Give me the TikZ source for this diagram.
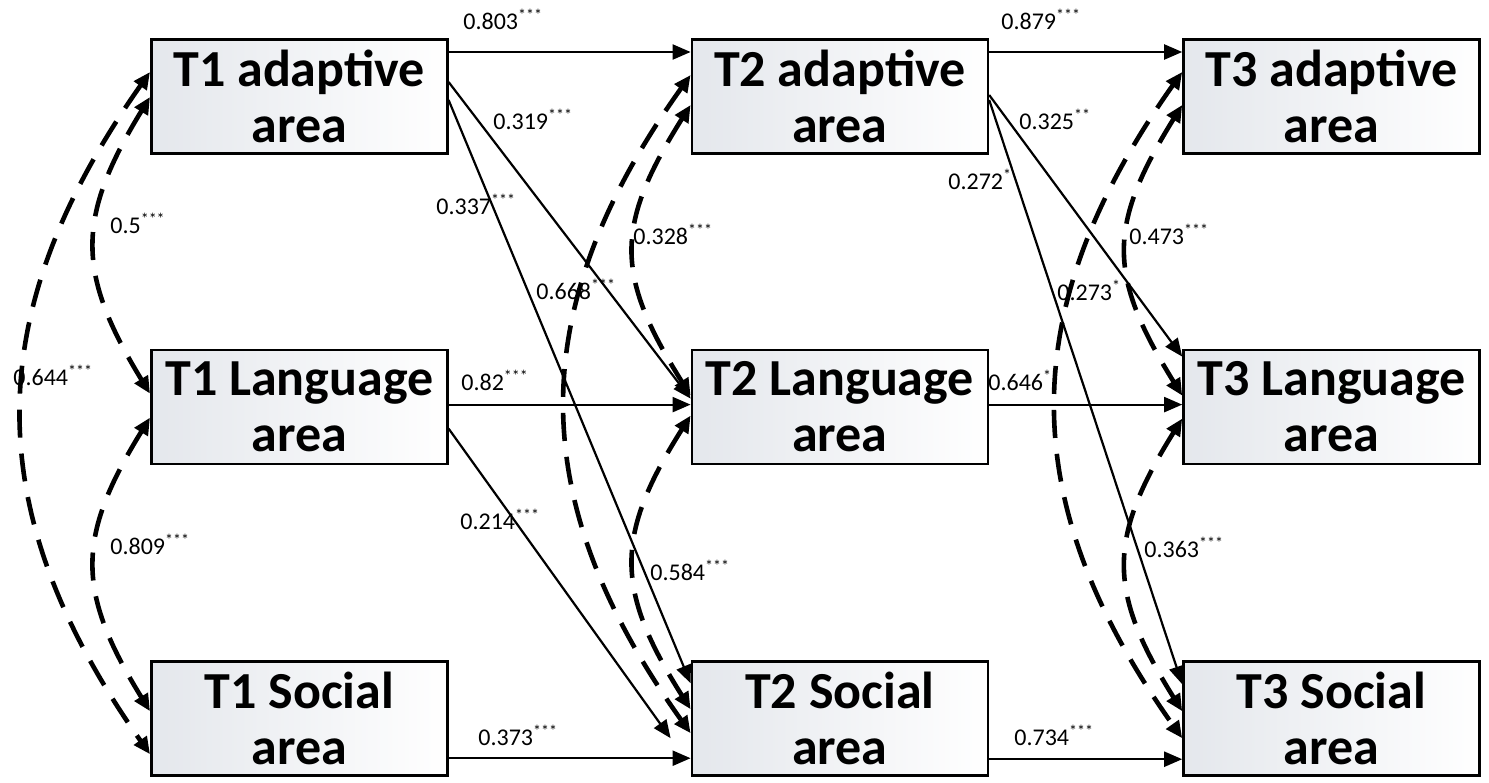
\documentclass[tikz,border=0pt]{standalone}
\usepackage{fontspec}
\setmainfont{Carlito}
\usepackage{tikz}
\usetikzlibrary{positioning, arrows.meta}
\definecolor{boxgray}{RGB}{228,231,236}
\tikzstyle{arrow} = [line width=1.1pt,-{Triangle[length=9pt,width=7.5pt]}]
\tikzstyle{corr} = [line width=2.3pt,dash pattern=on 14pt off 8pt,{Triangle[length=8.5pt,width=7.5pt]}-{Triangle[length=8.5pt,width=7.5pt]}]
\tikzstyle{coef} = [font=\fontsize{12}{14}\selectfont, inner sep=0pt, anchor=base west]

\begin{document}
\begin{tikzpicture}[x=0.5pt,y=-0.5pt,
areanode/.style={rectangle, draw=black, line width=1.3pt, left color=boxgray, middle color=white, right color=white, minimum width=148pt, minimum height=57pt, inner sep=0pt, align=center, font=\bfseries\fontsize{26}{28}\selectfont}
]
\useasboundingbox (0,0) rectangle (1489,782);
\node[areanode, anchor=north west] (A1) at (150,38) {T1 adaptive\\area};
\node[areanode] (L1) [below=97pt of A1] {T1 Language\\area};
\node[areanode] (S1) [below=97.5pt of L1] {T1 Social\\area};
\node[areanode] (A2) [right=121pt of A1] {T2 adaptive\\area};
\node[areanode] (L2) [right=121pt of L1] {T2 Language\\area};
\node[areanode] (S2) [right=121pt of S1] {T2 Social\\area};
\node[areanode] (A3) [right=96.5pt of A2] {T3 adaptive\\area};
\node[areanode] (L3) [right=96.5pt of L2] {T3 Language\\area};
\node[areanode] (S3) [right=96.5pt of S2] {T3 Social\\area};
\coordinate (end214) at ([shift={(-10pt,-39pt)}]S2.north west);

% T1 -> T2
\draw[arrow] ([yshift=-7pt]A1.north east) -- ([yshift=-7pt]A2.north west);
\draw[arrow] ([yshift=-22pt]A1.north east) -- ([yshift=-25pt]L2.north west);
\draw[arrow] ([yshift=-31pt]A1.north east) -- ([yshift=-11.5pt]S2.north west);
\draw[arrow] ([yshift=-28pt]L1.north east) -- ([yshift=-28pt]L2.north west);
\draw[arrow] ([yshift=-40pt]L1.north east) -- (end214);
\draw[arrow] ([yshift=-49pt]S1.north east) -- ([yshift=-49pt]S2.north west);

% T2 -> T3
\draw[arrow] ([yshift=-7pt]A2.north east) -- ([yshift=-7pt]A3.north west);
\draw[arrow] ([yshift=-28.5pt]A2.north east) -- ([yshift=-4pt]L3.north west);
\draw[arrow] ([yshift=-31pt]A2.north east) -- ([yshift=-12pt]S3.north west);
\draw[arrow] ([yshift=-28pt]L2.north east) -- ([yshift=-28pt]L3.north west);
\draw[arrow] ([yshift=-49.5pt]S2.north east) -- ([yshift=-49.5pt]S3.north west);

% correlations
\draw[corr] ([yshift=-17pt]A1.north west) .. controls +(-171,243) and +(-171,-243) .. ([yshift=-47pt]S1.north west);
\draw[corr] ([yshift=-29.5pt]A1.north west) .. controls +(-74,121) and +(-74,-121) .. ([yshift=-22.5pt]L1.north west);
\draw[corr] ([yshift=-34.5pt]L1.north west) .. controls +(-74,120) and +(-74,-120) .. ([yshift=-25.5pt]S1.north west);
\draw[corr] ([yshift=-18.5pt]A2.north west) .. controls +(-167,234) and +(-167,-234) .. ([yshift=-36.5pt]S2.north west);
\draw[corr] ([yshift=-33.5pt]A2.north west) .. controls +(-76,121) and +(-76,-121) .. ([yshift=-23.5pt]L2.north west);
\draw[corr] ([yshift=-33.5pt]L2.north west) .. controls +(-76,120) and +(-76,-120) .. ([yshift=-24.5pt]S2.north west);
\draw[corr] ([yshift=-17pt]A3.north west) .. controls +(-168,237) and +(-168,-237) .. ([yshift=-39pt]S3.north west);
\draw[corr] ([yshift=-33.5pt]A3.north west) .. controls +(-75,121) and +(-75,-121) .. ([yshift=-23.5pt]L3.north west);
\draw[corr] ([yshift=-35pt]L3.north west) .. controls +(-75,120) and +(-75,-120) .. ([yshift=-25.5pt]S3.north west);

% coefficients
\node[coef] (k803) at (463,29) {0.803\textsuperscript{***}};
\node[coef] (k319) at (493,129) {0.319\textsuperscript{***}};
\node[coef] (k337) at (436,214) {0.337\textsuperscript{***}};
\node[coef] (k5) at (110,233) {0.5\textsuperscript{***}};
\node[coef] (k644) at (13,385) {0.644\textsuperscript{***}};
\node[coef] (k809) at (110,554) {0.809\textsuperscript{***}};
\node[coef] (k328) at (633,244) {0.328\textsuperscript{***}};
\node[coef] (k668) at (536,299) {0.668\textsuperscript{***}};
\node[coef] (k82) at (461,390) {0.82\textsuperscript{***}};
\node[coef] (k214) at (460,529) {0.214\textsuperscript{***}};
\node[coef] (k584) at (650,580) {0.584\textsuperscript{***}};
\node[coef] (k373) at (478,745) {0.373\textsuperscript{***}};
\node[coef] (k879) at (1001,29) {0.879\textsuperscript{***}};
\node[coef] (k325) at (1019,129) {0.325\textsuperscript{**}};
\node[coef] (k272) at (948,189) {0.272\textsuperscript{*}};
\node[coef] (k473) at (1129,244) {0.473\textsuperscript{***}};
\node[coef] (k273) at (1057,300) {0.273\textsuperscript{*}};
\node[coef] (k646) at (988,390) {0.646\textsuperscript{**}};
\node[coef] (k363) at (1144,557) {0.363\textsuperscript{***}};
\node[coef] (k734) at (1014,745) {0.734\textsuperscript{***}};
\end{tikzpicture}
\end{document}
